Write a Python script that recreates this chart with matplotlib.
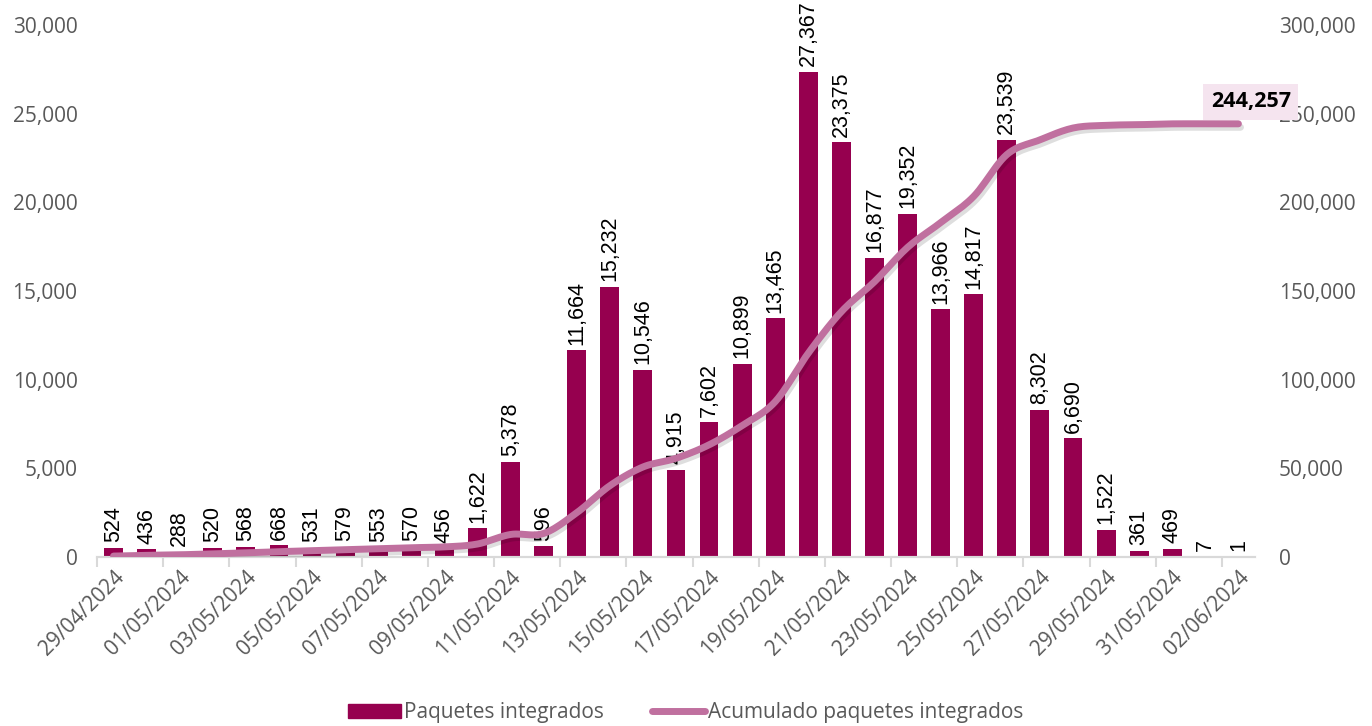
import numpy as np
import matplotlib
matplotlib.use("Agg")
import matplotlib.pyplot as plt
import matplotlib.patheffects as pe
from matplotlib.ticker import FuncFormatter, FixedLocator
from matplotlib.patches import Patch
from matplotlib.lines import Line2D

dates = ["29/04/2024", "30/04/2024", "01/05/2024", "02/05/2024", "03/05/2024", "04/05/2024",
         "05/05/2024", "06/05/2024", "07/05/2024", "08/05/2024", "09/05/2024", "10/05/2024",
         "11/05/2024", "12/05/2024", "13/05/2024", "14/05/2024", "15/05/2024", "16/05/2024",
         "17/05/2024", "18/05/2024", "19/05/2024", "20/05/2024", "21/05/2024", "22/05/2024",
         "23/05/2024", "24/05/2024", "25/05/2024", "26/05/2024", "27/05/2024", "28/05/2024",
         "29/05/2024", "30/05/2024", "31/05/2024", "01/06/2024", "02/06/2024"]
paquetes = [524, 436, 288, 520, 568, 668, 531, 579, 553, 570, 456, 1622, 5378, 596,
            11664, 15232, 10546, 4915, 7602, 10899, 13465, 27367, 23375, 16877, 19352,
            13966, 14817, 23539, 8302, 6690, 1522, 361, 469, 7, 1]
acumulado = [524, 960, 1248, 1768, 2336, 3004, 3535, 4114, 4667, 5237, 5693, 7315, 12693,
             13289, 24953, 40185, 50731, 55646, 63248, 74147, 87612, 114979, 138354,
             155231, 174583, 188549, 203366, 226905, 235207, 241897, 243419, 243780,
             244249, 244256, 244257]

BAR = "#96004F"
LINE = "#C0709F"
GREY = "#595959"

fig = plt.figure(figsize=(13.72, 7.26), dpi=100)
ax = fig.add_axes([0.0707, 0.2328, 0.8440, 0.7328])
ax2 = ax.twinx()

x = np.arange(len(dates))
ax.bar(x, paquetes, width=0.57, color=BAR, zorder=2)
for xi, v in zip(x, paquetes):
    ax.annotate(f"{v:,}", xy=(xi, v), xytext=(0, 4), textcoords="offset points",
                rotation=90, ha="center", va="bottom", fontsize=15.5,
                family="Liberation Sans", color="black", annotation_clip=False)

# smooth line (Catmull-Rom through the data points)
def smooth(xs, ys, n=12):
    xs = np.asarray(xs, float); ys = np.asarray(ys, float)
    px = np.concatenate([[2*xs[0]-xs[1]], xs, [2*xs[-1]-xs[-2]]])
    py = np.concatenate([[2*ys[0]-ys[1]], ys, [2*ys[-1]-ys[-2]]])
    ox, oy = [], []
    for i in range(1, len(px)-2):
        t = np.linspace(0, 1, n, endpoint=False)
        for arr, out in ((px, ox), (py, oy)):
            p0, p1, p2, p3 = arr[i-1], arr[i], arr[i+1], arr[i+2]
            out.extend(0.5*((2*p1) + (-p0+p2)*t + (2*p0-5*p1+4*p2-p3)*t**2 + (-p0+3*p1-3*p2+p3)*t**3))
    ox.append(xs[-1]); oy.append(ys[-1])
    return np.array(ox), np.array(oy)

sx, sy = smooth(x, acumulado)
ax2.plot(sx, sy, color=LINE, lw=5, solid_capstyle="round", zorder=3,
         path_effects=[pe.SimpleLineShadow(offset=(1.5, -2.5), shadow_color="k", alpha=0.13),
                       pe.Normal()])

ax2.annotate(f"{acumulado[-1]:,}", xy=(x[-1], acumulado[-1]), xytext=(9, 16),
             textcoords="offset points", ha="center", va="center", fontsize=15.5,
             fontweight="bold", family="Open Sans", color="black",
             bbox=dict(boxstyle="square,pad=0.35", fc="#F5E4EF", ec="none"))

ax.set_xlim(-0.5, len(dates) - 0.5)
ax.set_ylim(0, 30000)
ax2.set_ylim(0, 300000)
ax.set_yticks(np.arange(0, 30001, 5000))
ax2.set_yticks(np.arange(0, 300001, 50000))
fmt = FuncFormatter(lambda v, p: f"{int(v):,}")
ax.yaxis.set_major_formatter(fmt)
ax2.yaxis.set_major_formatter(fmt)

ax.set_xticks(x[::2])
ax.set_xticklabels(dates[::2], rotation=45, ha="right", rotation_mode="anchor")
ax.xaxis.set_minor_locator(FixedLocator(np.arange(-0.5, len(dates), 2)))
ax.tick_params(axis="x", which="major", length=0, pad=7, labelsize=15, labelcolor=GREY)
ax.tick_params(axis="x", which="minor", length=7, width=1.5, color="#D9D9D9")
ax.tick_params(axis="y", length=0, labelsize=15, labelcolor=GREY, pad=14)
ax2.tick_params(axis="y", length=0, labelsize=15, labelcolor=GREY, pad=17)
for lab in ax.get_xticklabels() + ax.get_yticklabels() + ax2.get_yticklabels():
    lab.set_family("Open Sans")

for a in (ax, ax2):
    for s in ("top", "left", "right"):
        a.spines[s].set_visible(False)
    a.spines["bottom"].set_color("#D9D9D9")
    a.spines["bottom"].set_linewidth(1.5)
ax.set_zorder(ax2.get_zorder() - 1)
ax2.patch.set_visible(False)
ax.patch.set_visible(False)

handles = [Patch(color=BAR), Line2D([0], [0], color=LINE, lw=5, solid_capstyle="round")]
leg = fig.legend(handles, ["Paquetes integrados", "Acumulado paquetes integrados"],
                 loc="center", bbox_to_anchor=(0.5, 0.018), ncol=2, frameon=False,
                 prop={"family": "Open Sans", "size": 15}, handlelength=2.55,
                 handletextpad=0.15, columnspacing=2.3)
for t in leg.get_texts():
    t.set_color(GREY)

fig.savefig("out.png", dpi=100)
